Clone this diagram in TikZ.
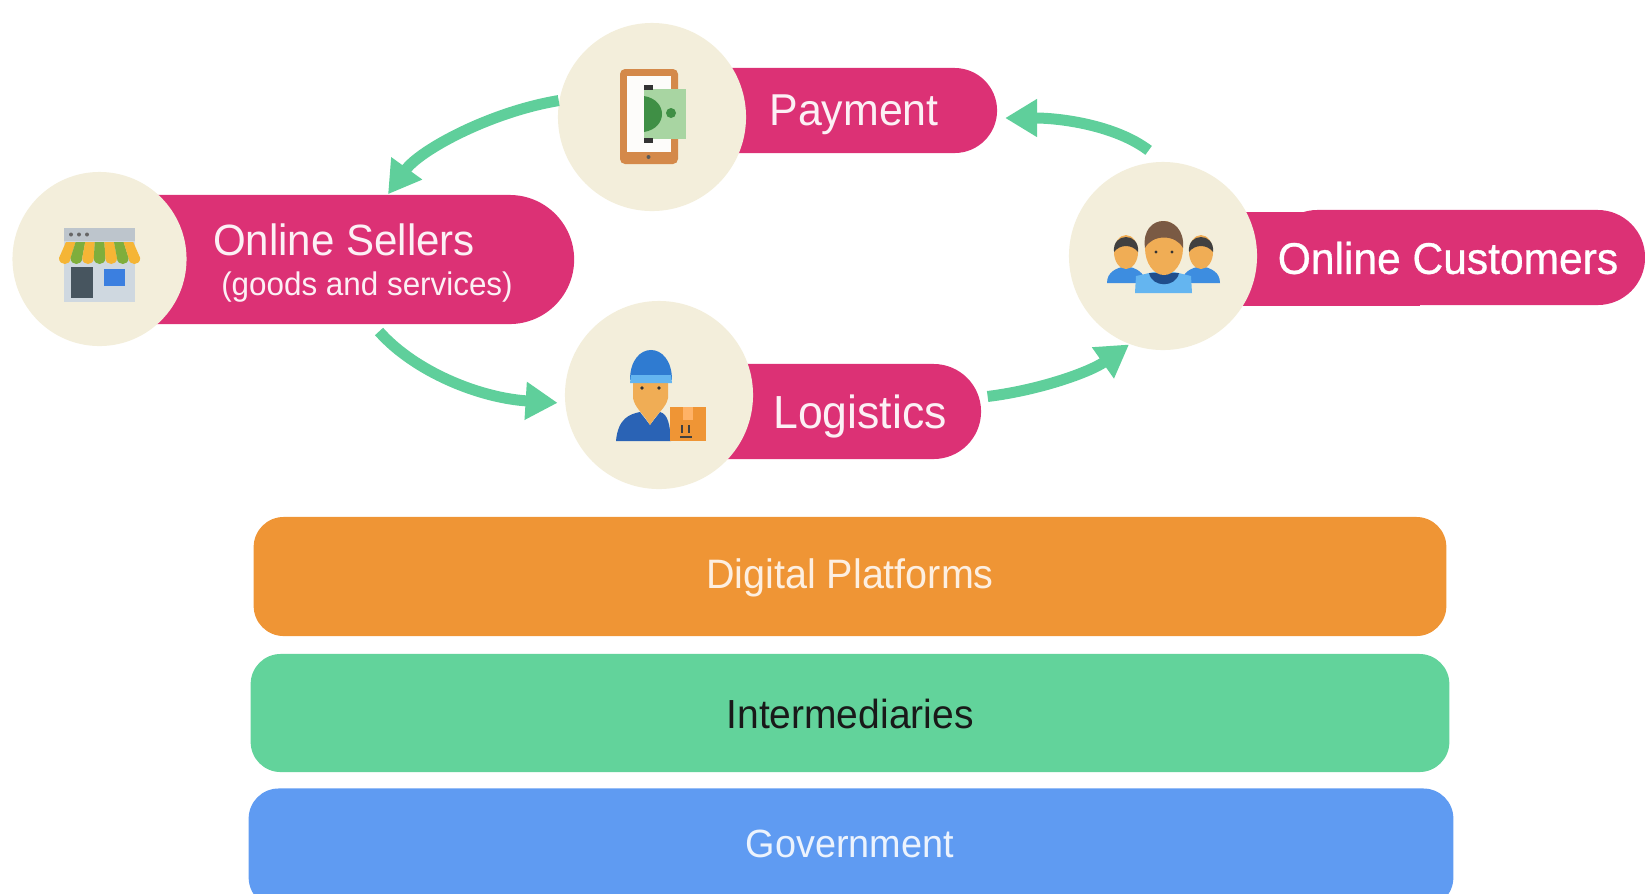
\documentclass[tikz,border=0pt]{standalone}
\usepackage{fontspec}
\setmainfont[FakeStretch=.96]{Liberation Sans}
\newfontfamily\medfont[FakeStretch=.96,FakeBold=0.7]{Liberation Sans}
\usetikzlibrary{arrows.meta}
\usetikzlibrary{shapes.misc}

\definecolor{berry}{HTML}{DC3175}
\definecolor{cream}{HTML}{F3EEDB}
\definecolor{mint}{HTML}{5FCF9B}
\definecolor{barorange}{HTML}{EF9535}
\definecolor{bargreen}{HTML}{62D39B}
\definecolor{barblue}{HTML}{5F9BF2}
\definecolor{skin}{HTML}{F0AD55}
\definecolor{capblue}{HTML}{2F7BD1}
\definecolor{shirtblue}{HTML}{3D8DE0}
\definecolor{shopwall}{HTML}{CFD8E0}
\definecolor{shoptop}{HTML}{BDC5CC}
\definecolor{shopdoor}{HTML}{47555F}
\definecolor{shopglass}{HTML}{3B7FE0}
\definecolor{awningyellow}{HTML}{F5B535}
\definecolor{awninggreen}{HTML}{7FAE3C}
\definecolor{phoneframe}{HTML}{D4894A}
\definecolor{moneylight}{HTML}{A8D5A2}
\definecolor{moneydark}{HTML}{3F8F45}
\definecolor{overall}{HTML}{2A63B5}
\definecolor{shirtlight}{HTML}{64B5F0}
\definecolor{collar}{HTML}{1F4E8C}
\definecolor{hairbrown}{HTML}{7A5A44}

\tikzset{
 hub/.style={circle, fill=cream, inner sep=0},
 pill/.style={rounded rectangle, rounded rectangle west arc=none, fill=berry, inner sep=0},
 bar/.style={rectangle, rounded corners=.3cm, inner sep=0, minimum width=11.96cm, minimum height=1.19cm},
 pilltext/.style={text=white!93!berry, inner sep=0},
 bartext/.style={inner sep=0},
 flow/.style={draw=mint, line width=.11cm, -{Triangle[length=.32cm,width=.36cm]}},
}

\begin{document}
\begin{tikzpicture} [x=.01cm, y=-.01cm]

\useasboundingbox (0,0) rectangle (1645,893);
\clip (0,0) rectangle (1645,893);

\node[bar, fill=barorange, minimum width=11.92cm] (platforms) at (850,576.5) {};
\node[bar, fill=bargreen, minimum width=11.98cm, minimum height=1.18cm] (intermediaries) at (850,713) {};
\node[bar, fill=barblue, minimum width=12.04cm] (government) at (851,848) {};
\node[bartext, text=white!85!barorange, font=\fontsize{11.7}{14}\selectfont] (platformstext) at (850,578) {Digital Platforms};
\node[bartext, text=black!90, font=\fontsize{11.55}{14}\selectfont] (intermediariestext) at (850,714) {Intermediaries};
\node[bartext, text=white!88!barblue, font=\fontsize{11.2}{14}\selectfont] (governmenttext) at (850,844) {Government};

% pills first, the circles lie over them
\node[pill, minimum width=4.6cm, minimum height=1.29cm] (sellers) at (344,259.5) {};
\node[pill, minimum width=2.86cm, minimum height=.85cm] (payment) at (854,110.5) {};
\node[pill, minimum width=2.7cm, minimum height=.95cm] (logistics) at (846,411.5) {};
\node[rectangle, fill=berry, inner sep=0, minimum width=1.8cm, minimum height=.94cm] (customerstub) at (1330,259) {};
\node[rounded rectangle, fill=berry, inner sep=0, minimum width=3.75cm, minimum height=.95cm] (customers) at (1457.5,257.5) {};

\node[hub, minimum size=1.74cm] (shop) at (99.5,259) {};
\node[hub, minimum size=1.88cm] (phone) at (652,117) {};
\node[hub, minimum size=1.88cm] (courier) at (659,395) {};
\node[hub, minimum size=1.88cm] (people) at (1163,256) {};

\node[pilltext, font=\fontsize{12.45}{14}\selectfont] (sellersname) at (344,240) {Online Sellers};
\node[pilltext, font=\fontsize{9.3}{12}\selectfont] (sellersgoods) at (367,287) {(goods and services)};
\node[pilltext, font=\fontsize{12.7}{14}\selectfont] (paymentname) at (854,115) {Payment};
\node[pilltext, font=\fontsize{13.2}{14}\selectfont] (logisticsname) at (860,416) {Logistics};
\node[pilltext, text=white, font=\medfont\fontsize{12.6}{14}\selectfont] (customersname) at (1448,258) {Online Customers};

\draw[flow] (phone.170) .. controls (490,112) and (420,150) .. (sellers.56);
\draw[flow, shorten <=.18cm, shorten >=.08cm] (people.90) .. controls (1115,125) and (1060,118) .. (payment.357);
\draw[flow, shorten <=.09cm, shorten >=.07cm] (sellers.294) .. controls (415,372) and (480,398) .. (courier.185);
\draw[flow, shorten <=.08cm] (logistics.6) .. controls (1040,390) and (1090,372) .. (people.249);

% shop
\fill[shopwall] (64,228) rectangle (135,302);
\fill[shoptop] (64,228) rectangle (135,241);
\foreach \x in {71, 79, 87} {
 \fill[black!60] (\x,234.5) circle (2);
};
\fill[shopdoor] (71,267) rectangle (93,298);
\fill[shopglass] (104,269) rectangle (125,286);
\foreach \i [evaluate=\i as \xa using 66+\i*9.6, evaluate=\i as \xb using 59+\i*11.6, evaluate=\i as \xc using 59+(\i+1)*11.6, evaluate=\i as \xd using 66+(\i+1)*9.6, evaluate={\k=int(mod(\i,2));}] in {0,...,6} {
 \ifnum\k=0 \def\tint{awningyellow} \else \def\tint{awninggreen} \fi
 \fill[\tint] (\xa,242) -- (\xb,258) .. controls (\xb,266) and (\xc,266) .. (\xc,258) -- (\xd,242) -- cycle;
};

% phone
\fill[phoneframe, rounded corners=.05cm] (620,69) rectangle (678,164);
\fill[white!85!cream] (626.5,76) rectangle (671,152);
\fill[black!65] (648.5,157) circle (2);
\fill[moneylight] (644,89) rectangle (686,139);
\fill[moneydark] (644,96) .. controls (668,100) and (668,128) .. (644,132) -- cycle;
\fill[moneydark] (671,113) circle (5);
\fill[black!80] (644,85) rectangle (653,90);
\fill[black!80] (644,138) rectangle (653,143);

% courier
\fill[overall] (616,441) .. controls (618,418) and (630,414) .. (640,412) -- (650,425) -- (660,412) .. controls (668,414) and (670,425) .. (671,441) -- cycle;
\fill[skin] (633,378) -- (668,378) -- (668,398) .. controls (666,408) and (658,412) .. (650,425) .. controls (642,412) and (635,408) .. (633,398) -- cycle;
\fill[black!80] (642,388) circle (1.8);
\fill[black!80] (659,388) circle (1.8);
\fill[capblue] (630,380) .. controls (630,340) and (672,340) .. (672,380) -- cycle;
\fill[shirtlight] (631,375) -- (671,375) -- (672,383) -- (630,383) -- cycle;
\fill[barorange] (670,407) rectangle (706,441);
\fill[orange!60!white] (683,407) rectangle (693,420);
\fill[black!75] (681,425) rectangle (683,433);
\fill[black!75] (688,425) rectangle (690,433);
\fill[black!75] (680,436) rectangle (692,437.5);

% people
\foreach \x in {1126, 1201} {
 \fill[shirtblue] (\x-19,283) .. controls (\x-19,272) and (\x-10,268) .. (\x,266) .. controls (\x+10,268) and (\x+19,272) .. (\x+19,283) -- cycle;
 \fill[skin] (\x,252) ellipse (12 and 17);
 \fill[black!75] (\x-12,252) .. controls (\x-14,232) and (\x+14,232) .. (\x+12,252) .. controls (\x+6,244) and (\x-6,244) .. (\x-12,252) -- cycle;
};
\fill[shirtlight] (1135,293) -- (1136,276) .. controls (1146,274) and (1152,272) .. (1164,270) .. controls (1176,272) and (1182,274) .. (1191,276) -- (1192,293) -- cycle;
\fill[collar] (1149,273) .. controls (1152,288) and (1176,288) .. (1179,273) -- cycle;
\fill[skin] (1164,248) ellipse (19 and 27);
\fill[hairbrown] (1145,248) .. controls (1140,212) and (1186,212) .. (1183,248) .. controls (1176,234) and (1152,234) .. (1145,248) -- cycle;
\fill[black!80] (1156,252) circle (1.6);
\fill[black!80] (1172,252) circle (1.6);

\end{tikzpicture}
\end{document}
